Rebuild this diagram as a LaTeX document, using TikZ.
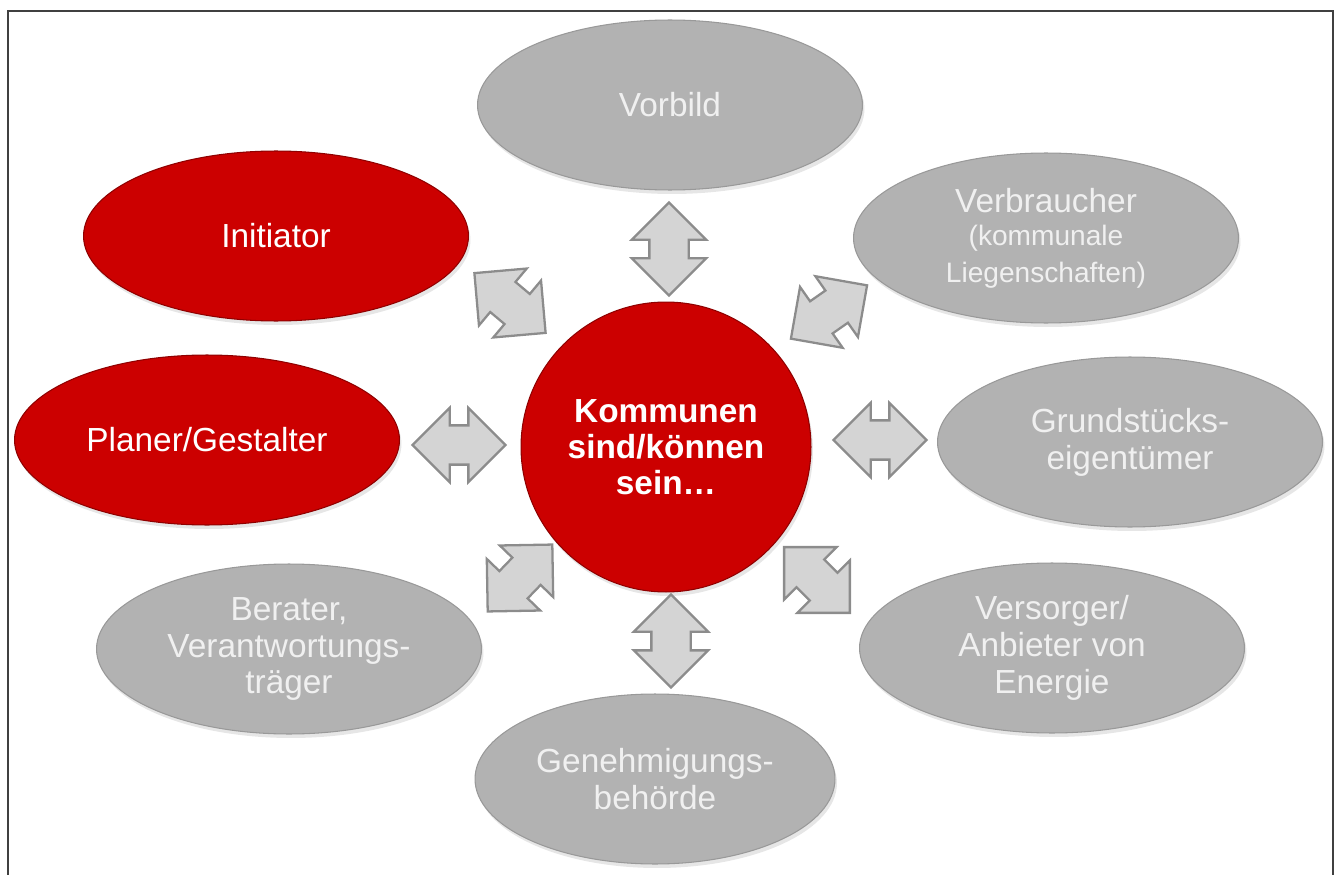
\documentclass[tikz,border=0pt]{standalone}
\usepackage{fontspec}
\setmainfont{Liberation Sans}
\usetikzlibrary{shapes.geometric,shapes.arrows,shadows}
\definecolor{kred}{RGB}{204,0,0}
\definecolor{kgrey}{RGB}{178,178,178}
\definecolor{arrfill}{RGB}{212,212,212}
\definecolor{arrline}{RGB}{140,140,140}

\begin{document}
\begin{tikzpicture}[x=0.02cm, y=-0.02cm,
    role/.style={ellipse, draw=black!40, line width=0.6pt, fill=kgrey, text=white!94!black,
      minimum width=7.7cm, minimum height=3.4cm, inner sep=0pt, align=center,
      font=\fontsize{19}{21}\selectfont,
      drop shadow={opacity=0.2, shadow xshift=0.04cm, shadow yshift=-0.08cm}},
    redrole/.style={role, fill=kred, draw=kred!70!black, text=white},
    dblarrow/.style={double arrow, draw=arrline, fill=arrfill, line width=1.3pt,
      minimum height=1.86cm, inner xsep=0pt, inner ysep=0.37cm, double arrow head extend=0.35cm}]
    \useasboundingbox (0,0) rectangle (1336,875);
    \draw[line width=1.2pt, black!75] (8,875) -- (8,11) -- (1333,11) -- (1333,875);

    % centre
    \node[circle, fill=kred, draw=kred!70!black, line width=0.6pt, minimum size=5.8cm, inner sep=0pt,
      text=white, align=center, font=\bfseries\fontsize{19}{20.5}\selectfont,
      drop shadow={opacity=0.2, shadow xshift=0.04cm, shadow yshift=-0.08cm}] (kommunen) at (666,447)
      {Kommunen\\sind/können\\sein…};

    % roles
    \node[role] (vorbild) at (670,105) {Vorbild};
    \node[redrole] (initiator) at (276,236) {Initiator};
    \node[redrole] (planer) at (207,440) {Planer/Gestalter};
    \node[role] (verbraucher) at (1046,238) {Verbraucher\\[-2pt]{\fontsize{16}{17}\selectfont (kommunale}\\{\fontsize{16}{17}\selectfont Liegenschaften)}};
    \node[role] (grund) at (1130,442) {Grundstücks-\\eigentümer};
    \node[role] (berater) at (289,649) {Berater,\\Verantwortungs-\\träger};
    \node[role] (versorger) at (1052,648) {Versorger/\\Anbieter von\\Energie};
    \node[role, minimum width=7.2cm] (behoerde) at (655,779) {Genehmigungs-\\behörde};

    % arrows
    \node[dblarrow, rotate=90] (arr_top) at (669,249) {};
    \node[dblarrow, rotate=90] (arr_bottom) at (671,641) {};
    \node[dblarrow] (arr_left) at (459,445) {};
    \node[dblarrow] (arr_right) at (880,440) {};
    \node[dblarrow, rotate=-40] (arr_tl) at (510,303) {};
    \node[dblarrow, rotate=35] (arr_tr) at (829,312) {};
    \node[dblarrow, rotate=46] (arr_bl) at (520,578) {};
    \node[dblarrow, rotate=-45] (arr_br) at (817,580) {};
\end{tikzpicture}
\end{document}
